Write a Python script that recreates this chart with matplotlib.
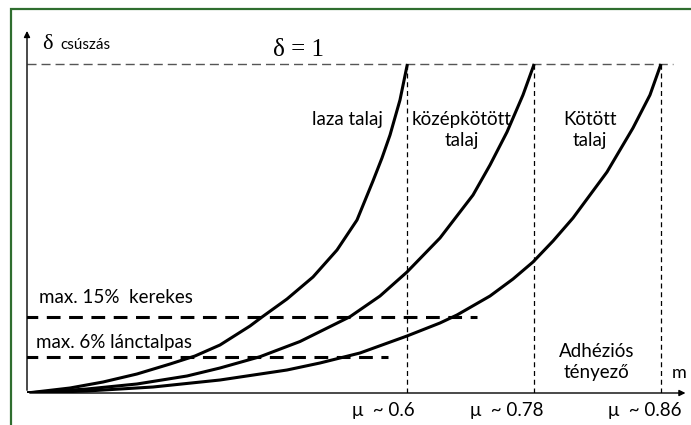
import matplotlib
matplotlib.use('Agg')
import matplotlib.pyplot as plt
from matplotlib.patches import Rectangle

plt.rcParams['font.family'] = ['Lato', 'DejaVu Sans']

# soil curves: slip (delta) vs adhesion (mu)
laza_x = [0, 0.0678, 0.1199, 0.1735, 0.2256, 0.2650, 0.3044, 0.3517, 0.3707, 0.4101,
          0.4511, 0.4890, 0.5205, 0.5457, 0.5599, 0.5726, 0.5883, 0.6]
laza_y = [0, 0.0152, 0.0334, 0.0578, 0.0881, 0.1125, 0.1459, 0.2036, 0.2310, 0.2857,
          0.3526, 0.4347, 0.5258, 0.6444, 0.7143, 0.7842, 0.8906, 1.0]

kozep_x = [0, 0.0946, 0.1735, 0.2524, 0.3044, 0.3675, 0.4306, 0.5095, 0.5568, 0.5994,
           0.6514, 0.7035, 0.7303, 0.7571, 0.7823, 0.8]
kozep_y = [0, 0.0122, 0.0274, 0.0517, 0.0760, 0.1103, 0.1565, 0.2319, 0.2948, 0.3678,
           0.4711, 0.6018, 0.6930, 0.7933, 0.9058, 1.0]

kotott_x = [0, 0.0946, 0.1987, 0.3044, 0.4101, 0.4621, 0.5252, 0.5994, 0.6514, 0.6782,
            0.7303, 0.7666, 0.7981, 0.8297, 0.8612, 0.9148, 0.9558, 0.9826, 1.0]
kotott_y = [0, 0.0061, 0.0182, 0.0395, 0.0699, 0.0912, 0.1216, 0.1733, 0.2128, 0.2371,
            0.2948, 0.3465, 0.3982, 0.4620, 0.5319, 0.6717, 0.8055, 0.9058, 1.0]

# end points of the curves and their labels on the x axis
mu_pos = [0.6, 0.8, 1.0]
mu_labels = ['μ  ~ 0.6', 'μ  ~ 0.78', 'μ  ~ 0.86']

# max allowed slip lines
limit_levels = [0.232, 0.11]
limit_ends = [0.71, 0.57]
limit_labels = ['max. 15%  kerekes', 'max. 6% lánctalpas']

fig = plt.figure(figsize=(6.91, 4.25), dpi=100)
W, H = 691, 425
ax = fig.add_axes([27 / W, 32 / H, 664 / W, 373 / H])
ax.set_xlim(0, 664 / 634)
ax.set_ylim(0, 373 / 329)
ax.axis('off')

# green frame
fig.patches.append(Rectangle((11 / W, -0.1), 1.2, 1.1 - 9 / H, transform=fig.transFigure,
                             fill=False, edgecolor='#2f6e2f', linewidth=1.6))

# axes arrows
ax.annotate('', xy=(0, 1.109), xytext=(0, 0),
            arrowprops=dict(arrowstyle='-|>', color='black', lw=1, mutation_scale=9))
ax.annotate('', xy=(1.043, 0), xytext=(0, 0),
            arrowprops=dict(arrowstyle='-|>', color='black', lw=1, mutation_scale=9))

# delta = 1 line
ax.plot([0, 1.019], [1, 1], color='#555555', lw=1, dashes=(6.5, 3.6))
ax.text(0.429, 1.043, 'δ = 1', fontsize=18, family='Liberation Serif', ha='center', va='center')

# vertical lines at curve ends
for p in mu_pos:
    ax.plot([p, p], [0, 1], color='black', lw=0.9, dashes=(4, 3))

for xs, ys in [(laza_x, laza_y), (kozep_x, kozep_y), (kotott_x, kotott_y)]:
    ax.plot(xs, ys, color='black', lw=2.2, solid_joinstyle='round', solid_capstyle='butt')

for lev, end in zip(limit_levels, limit_ends):
    ax.plot([-0.004, end], [lev, lev], color='black', lw=2.2, dashes=(4.5, 2.8))

ax.text(0.019, 0.289, limit_labels[0], fontsize=13.5, ha='left', va='center')
ax.text(0.014, 0.155, limit_labels[1], fontsize=13.5, ha='left', va='center')

for p, lab in zip([0.612, 0.814, 1.033], mu_labels):
    ax.text(p, -0.052, lab, fontsize=13.5, ha='right', va='center')

ax.text(0.505, 0.83, 'laza talaj', fontsize=13.5, ha='center', va='center')
ax.text(0.686, 0.80, 'középkötött\ntalaj', fontsize=13.5, ha='center', va='center', linespacing=1.25)
ax.text(0.888, 0.80, 'Kötött\ntalaj', fontsize=13.5, ha='center', va='center', linespacing=1.25)
ax.text(0.899, 0.094, 'Adhéziós\ntényező', fontsize=13.5, ha='center', va='center', linespacing=1.25)
ax.text(1.028, 0.06, 'm', fontsize=13, ha='center', va='center')

ax.text(0.024, 1.058, 'δ', fontsize=16, family='Liberation Serif', ha='left', va='center')
ax.text(0.052, 1.058, 'csúszás', fontsize=11, ha='left', va='center')

fig.savefig('out.png', dpi=100)
